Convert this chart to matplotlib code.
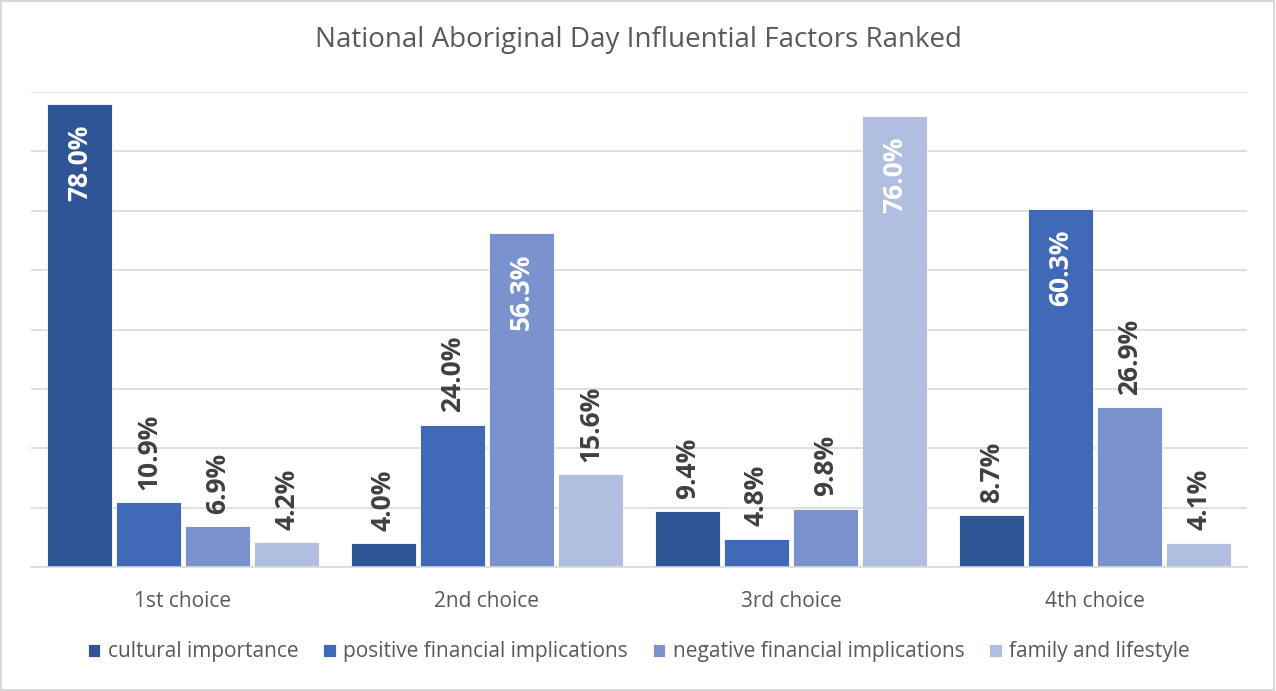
import matplotlib.pyplot as plt
import numpy as np
from matplotlib.patches import Rectangle

plt.rcParams['font.family'] = ['Open Sans', 'DejaVu Sans']

choices = ['1st choice', '2nd choice', '3rd choice', '4th choice']
factors = ['cultural importance', 'positive financial implications',
           'negative financial implications', 'family and lifestyle']
cultural = [78.0, 4.0, 9.4, 8.7]
positive = [10.9, 24.0, 4.8, 60.3]
negative = [6.9, 56.3, 9.8, 26.9]
family = [4.2, 15.6, 76.0, 4.1]
colors = ['#2F5597', '#4069B8', '#7A93CF', '#B0BEE0']

series = [cultural, positive, negative, family]

fig = plt.figure(figsize=(12.76, 6.91), dpi=100)
ax = fig.add_axes([31 / 1276, 1 - 567 / 691, 1216 / 1276, (567 - 92) / 691])

x = np.arange(len(choices))
step = 0.227
width = 0.217
for i, (vals, col, name) in enumerate(zip(series, colors, factors)):
    pos = x + (i - 1.5) * step
    bars = ax.bar(pos, vals, width, color=col, label=name, zorder=2,
                  edgecolor='white', linewidth=0.6)
    for p, v in zip(pos, vals):
        if v > 50:
            ax.annotate(f'{v:.1f}%', (p, v), xytext=(0, -15), textcoords='offset points',
                        rotation=90, ha='center', va='top', color='white',
                        fontsize=19, fontweight='bold')
        else:
            ax.annotate(f'{v:.1f}%', (p, v), xytext=(0, 9), textcoords='offset points',
                        rotation=90, ha='center', va='bottom', color='#404040',
                        fontsize=19, fontweight='bold')

ax.set_xlim(-0.5, 3.5)
ax.set_ylim(0, 80)
ax.set_yticks(np.arange(0, 81, 10))
ax.yaxis.grid(True, color='#D9D9D9', linewidth=1.2, zorder=0)
ax.set_yticklabels([])
ax.tick_params(axis='y', length=0)
ax.tick_params(axis='x', length=0, pad=17, labelsize=15, labelcolor='#595959')
ax.set_xticks(x)
ax.set_xticklabels(choices)
for s in ['top', 'right', 'left']:
    ax.spines[s].set_visible(False)
ax.spines['bottom'].set_color('#D9D9D9')
ax.spines['bottom'].set_linewidth(1.2)

fig.text(0.5, 1 - 40 / 691, 'National Aboriginal Day Influential Factors Ranked',
         ha='center', va='center', fontsize=20, color='#595959')

ax.legend(loc='center', bbox_to_anchor=(0.5, (567 - 652) / 475), ncol=4, frameon=False,
          fontsize=15, labelcolor='#595959', handlelength=0.6, handleheight=0.6,
          handletextpad=0.35, columnspacing=1.2)

fig.add_artist(Rectangle((0.0005, 0.001), 0.998, 0.997, transform=fig.transFigure,
                         fill=False, edgecolor='#D9D9D9', linewidth=1.5))

fig.savefig('out.png', dpi=100)
